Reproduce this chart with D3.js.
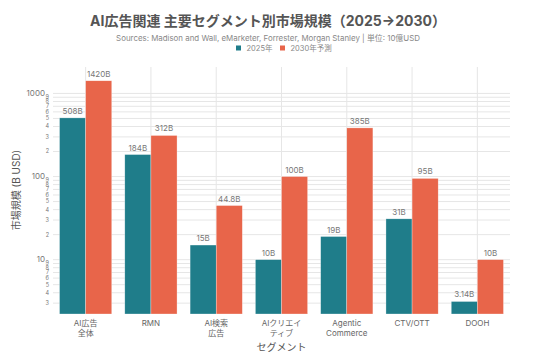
<!DOCTYPE html>
<html><head><meta charset="utf-8">
<script src="https://cdn.jsdelivr.net/npm/d3@7"></script>
<style>
body{margin:0;background:#fff;}
text{font-family:Inter,"Noto Sans CJK JP",sans-serif;}
</style></head>
<body><svg id="c" width="536" height="357"></svg>
<script>
const categories = ["AI広告\n全体","RMN","AI検索\n広告","AIクリエイ\nティブ","Agentic\nCommerce","CTV/OTT","DOOH"];
const seriesNames = ["2025年","2030年予測"];
const values2025 = [508,184,15,10,19,31,3.14];
const values2030 = [1420,312,44.8,100,385,95,10];
const labels2025 = ["508B","184B","15B","10B","19B","31B","3.14B"];
const labels2030 = ["1420B","312B","44.8B","100B","385B","95B","10B"];
const colors = ["#1f7d8a","#e8654a"];
const titleText = "AI広告関連 主要セグメント別市場規模（2025→2030）";
const subtitleText = "Sources: Madison and Wall, eMarketer, Forrester, Morgan Stanley | 単位: 10億USD";
const yTitle = "市場規模 (B USD)";
const xTitle = "セグメント";

const svg = d3.select("#c");
const L=53, R=510, T=67, B=314;
const x = d3.scaleBand().domain(categories).range([L,R]).paddingInner(0.2).paddingOuter(0.1);
const x0 = d3.scaleBand().domain(categories).range([L,R]);
const xs = d3.scaleBand().domain([0,1]).range([0,x.bandwidth()]);
const y = d3.scaleLog().domain([2.22,2080]).range([B,T]);

// gridlines
const ticks=[];
for (const dec of [1,10,100,1000]) for (let m=1;m<=9;m++){const v=m*dec; if(v>=y.domain()[0]&&v<=1900) ticks.push({v,major:m===1,m});}
const g = svg.append("g");
g.selectAll("line.h").data(ticks).join("line")
 .attr("x1",L).attr("x2",R).attr("y1",d=>y(d.v)).attr("y2",d=>y(d.v))
 .attr("stroke","#e6e6e6").attr("stroke-width",1);
g.selectAll("line.v").data(categories).join("line")
 .attr("x1",d=>x0(d)+x0.bandwidth()/2).attr("x2",d=>x0(d)+x0.bandwidth()/2)
 .attr("y1",T).attr("y2",B).attr("stroke","#e6e6e6");
// y tick labels
g.selectAll("text.yt").data(ticks).join("text")
 .attr("x",d=>d.major?45:49).attr("y",d=>y(d.v)).attr("dy","0.35em")
 .attr("text-anchor","end").attr("fill","#777")
 .attr("font-size",d=>d.major?8:5.5).text(d=>d.major?d.v:d.m);

// bars
const series=[values2025,values2030], lbls=[labels2025,labels2030];
series.forEach((vals,si)=>{
  const gg=svg.append("g");
  gg.selectAll("rect").data(vals).join("rect")
   .attr("x",(d,i)=>x(categories[i])+xs(si)).attr("width",xs.bandwidth())
   .attr("y",d=>y(d)).attr("height",d=>B-y(d))
   .attr("fill",colors[si]).attr("stroke","#fff").attr("stroke-width",0.5).attr("stroke-opacity",0.6);
  gg.selectAll("text").data(vals).join("text")
   .attr("x",(d,i)=>x(categories[i])+xs(si)+xs.bandwidth()/2).attr("y",d=>y(d)-4)
   .attr("text-anchor","middle").attr("font-size",8).attr("fill","#777")
   .text((d,i)=>lbls[si][i]);
});

// x tick labels
categories.forEach(c=>{
  const lines=c.split("\n");
  const t=svg.append("text").attr("x",x0(c)+x0.bandwidth()/2).attr("y",326)
   .attr("text-anchor","middle").attr("font-size",8).attr("fill","#666");
  lines.forEach((ln,i)=>t.append("tspan").attr("x",x0(c)+x0.bandwidth()/2).attr("dy",i?9.5:0).text(ln));
});

// titles
svg.append("text").attr("x",268).attr("y",25.5).attr("text-anchor","middle")
 .attr("font-size",14).attr("font-weight","bold").attr("fill","#555").text(titleText);
svg.append("text").attr("x",268).attr("y",38.5).attr("dy","0.35em").attr("text-anchor","middle")
 .attr("font-size",7.9).attr("fill","#888").text(subtitleText);
svg.append("text").attr("x",(L+R)/2).attr("y",351).attr("text-anchor","middle")
 .attr("font-size",10).attr("fill","#555").text(xTitle);
svg.append("text").attr("transform",`translate(20,190) rotate(-90)`).attr("text-anchor","middle")
 .attr("font-size",10).attr("fill","#555").text(yTitle);

// legend
const lx=[236,280];
seriesNames.forEach((n,i)=>{
  svg.append("rect").attr("x",lx[i]).attr("y",45.5).attr("width",5).attr("height",5).attr("fill",colors[i]);
  svg.append("text").attr("x",lx[i]+10.5).attr("y",48).attr("dy","0.35em").attr("font-size",7.5).attr("fill","#888").text(n);
});
</script></body></html>
